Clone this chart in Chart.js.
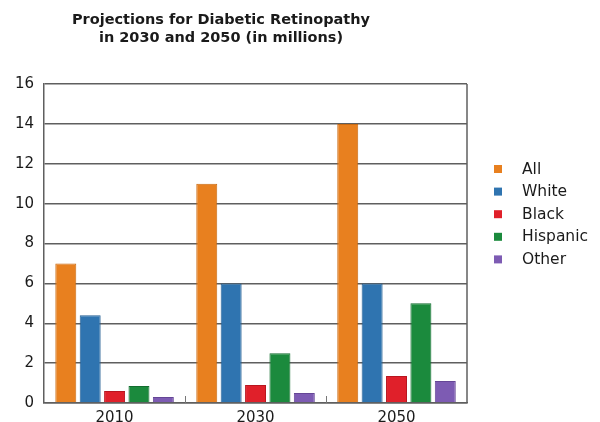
<!DOCTYPE html>
<html>
<head>
<meta charset="utf-8">
<script src="https://cdn.jsdelivr.net/npm/chart.js@4/dist/chart.umd.min.js"></script>
<style>
  html, body { margin: 0; padding: 0; background: #ffffff; }
  #wrap { width: 600px; height: 422px; }
</style>
</head>
<body>
<div id="wrap"><canvas id="chart" width="600" height="422"></canvas></div>
<script>
// Projected cases of diabetic retinopathy (millions)
const years = ['2010', '2030', '2050'];
const allCases = [7, 11, 14];
const whiteCases = [4.4, 6, 6];
const blackCases = [0.6, 0.9, 1.35];
const hispanicCases = [0.85, 2.5, 5];
const otherCases = [0.3, 0.5, 1.1];
const yTicks = [0, 2, 4, 6, 8, 10, 12, 14, 16];
const titleLines = ['Projections for Diabetic Retinopathy', 'in 2030 and 2050 (in millions)'];

const FONT = '"DejaVu Sans", "Liberation Sans", Arial, sans-serif';
const GRID = '#5f5f5f';

function series(label, data, fill, edge) {
  return { label, data, backgroundColor: fill, borderColor: edge, borderWidth: 1,
           categoryPercentage: 0.865, barPercentage: 0.86 };
}

// Two-line heading, drawn above the plot
const headingPlugin = {
  id: 'heading',
  afterDraw(chart) {
    const ctx = chart.ctx;
    ctx.save();
    ctx.fillStyle = '#1a1a1a';
    ctx.font = 'bold 14.5px ' + FONT;
    ctx.textAlign = 'center';
    ctx.textBaseline = 'alphabetic';
    ctx.fillText(titleLines[0], 221, 24);
    ctx.fillText(titleLines[1], 221, 42);
    ctx.restore();
  }
};

// Right-hand frame line and short dividers between year groups
const framePlugin = {
  id: 'frame',
  afterDatasetsDraw(chart) {
    const { ctx, chartArea: a, scales: { x } } = chart;
    ctx.save();
    ctx.strokeStyle = GRID;
    ctx.lineWidth = 1.5;
    ctx.beginPath();
    ctx.moveTo(a.right, a.top);
    ctx.lineTo(a.right, a.bottom);
    ctx.stroke();
    ctx.strokeStyle = '#777777';
    ctx.lineWidth = 1;
    for (let i = 1; i < years.length; i++) {
      const px = Math.round((x.getPixelForValue(i - 1) + x.getPixelForValue(i)) / 2) + 0.5;
      ctx.beginPath();
      ctx.moveTo(px, a.bottom);
      ctx.lineTo(px, a.bottom - 7);
      ctx.stroke();
    }
    ctx.restore();
  }
};

// Legend: small squares with the series names, to the right of the plot
const keyPlugin = {
  id: 'key',
  afterDraw(chart) {
    const ctx = chart.ctx;
    const sets = chart.data.datasets;
    ctx.save();
    ctx.font = '15.5px ' + FONT;
    ctx.textAlign = 'left';
    ctx.textBaseline = 'middle';
    sets.forEach((ds, i) => {
      const cy = 169 + i * 22.6;
      ctx.fillStyle = ds.backgroundColor;
      ctx.fillRect(494, cy - 4, 8, 8);
      ctx.fillStyle = '#1a1a1a';
      ctx.fillText(ds.label, 522, cy + 0.5);
    });
    ctx.restore();
  }
};

new Chart(document.getElementById('chart'), {
  type: 'bar',
  data: {
    labels: years,
    datasets: [
      series('All', allCases, '#E8801F', '#c96a12'),
      series('White', whiteCases, '#2F74B0', '#245f93'),
      series('Black', blackCases, '#E0202A', '#b8161f'),
      series('Hispanic', hispanicCases, '#1B8A3D', '#136d2f'),
      series('Other', otherCases, '#7D5BB3', '#654696')
    ]
  },
  options: {
    responsive: false,
    devicePixelRatio: 1,
    animation: false,
    layout: { padding: { top: 84, right: 133, left: 5, bottom: -12 } },
    plugins: {
      legend: { display: false },
      title: { display: false },
      tooltip: { enabled: false }
    },
    scales: {
      x: {
        grid: { display: false, drawTicks: false, tickLength: 0 },
        border: { display: true, color: GRID, width: 1.5 },
        ticks: { color: '#1a1a1a', padding: 8, font: { family: FONT, size: 15, lineHeight: 1 } }
      },
      y: {
        min: 0,
        max: 16,
        afterBuildTicks(scale) { scale.ticks = yTicks.map(v => ({ value: v })); },
        grid: { color: GRID, lineWidth: 1.5, drawTicks: false, tickLength: 0 },
        border: { display: true, color: GRID, width: 1.5 },
        ticks: { color: '#1a1a1a', padding: 10, font: { family: FONT, size: 15 } }
      }
    }
  },
  plugins: [headingPlugin, framePlugin, keyPlugin]
});
</script>
</body>
</html>
